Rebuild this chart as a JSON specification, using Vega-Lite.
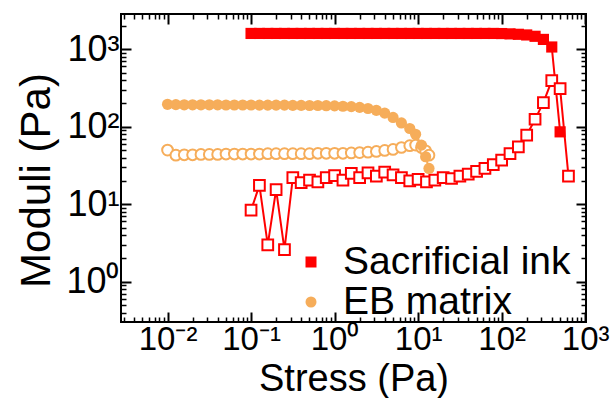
{
  "$schema": "https://vega.github.io/schema/vega-lite/v6.json",
  "width": 465,
  "height": 308,
  "autosize": {"type": "none"},
  "padding": {"left": 121, "top": 14, "right": 29, "bottom": 76},
  "background": "white",
  "config": {
    "view": {"stroke": "black", "strokeWidth": 2},
    "axis": {"labelFont": "Liberation Sans", "titleFont": "Liberation Sans", "labelColor": "black", "titleColor": "black", "tickColor": "black", "grid": false, "domain": false, "titleFontWeight": "normal", "labelOverlap": false, "labelFlush": false}
  },
  "data": {"values": [
    {"material": "Sacrificial ink", "modulus": "G'", "stress": 0.1, "value": 1600},
    {"material": "Sacrificial ink", "modulus": "G'", "stress": 0.1259, "value": 1600},
    {"material": "Sacrificial ink", "modulus": "G'", "stress": 0.1585, "value": 1600},
    {"material": "Sacrificial ink", "modulus": "G'", "stress": 0.1995, "value": 1600},
    {"material": "Sacrificial ink", "modulus": "G'", "stress": 0.2512, "value": 1600},
    {"material": "Sacrificial ink", "modulus": "G'", "stress": 0.3162, "value": 1600},
    {"material": "Sacrificial ink", "modulus": "G'", "stress": 0.3981, "value": 1600},
    {"material": "Sacrificial ink", "modulus": "G'", "stress": 0.5012, "value": 1600},
    {"material": "Sacrificial ink", "modulus": "G'", "stress": 0.631, "value": 1600},
    {"material": "Sacrificial ink", "modulus": "G'", "stress": 0.7943, "value": 1600},
    {"material": "Sacrificial ink", "modulus": "G'", "stress": 1, "value": 1600},
    {"material": "Sacrificial ink", "modulus": "G'", "stress": 1.259, "value": 1600},
    {"material": "Sacrificial ink", "modulus": "G'", "stress": 1.585, "value": 1600},
    {"material": "Sacrificial ink", "modulus": "G'", "stress": 1.995, "value": 1600},
    {"material": "Sacrificial ink", "modulus": "G'", "stress": 2.512, "value": 1600},
    {"material": "Sacrificial ink", "modulus": "G'", "stress": 3.162, "value": 1600},
    {"material": "Sacrificial ink", "modulus": "G'", "stress": 3.981, "value": 1600},
    {"material": "Sacrificial ink", "modulus": "G'", "stress": 5.012, "value": 1600},
    {"material": "Sacrificial ink", "modulus": "G'", "stress": 6.31, "value": 1600},
    {"material": "Sacrificial ink", "modulus": "G'", "stress": 7.943, "value": 1600},
    {"material": "Sacrificial ink", "modulus": "G'", "stress": 10, "value": 1600},
    {"material": "Sacrificial ink", "modulus": "G'", "stress": 12.59, "value": 1600},
    {"material": "Sacrificial ink", "modulus": "G'", "stress": 15.85, "value": 1600},
    {"material": "Sacrificial ink", "modulus": "G'", "stress": 19.95, "value": 1600},
    {"material": "Sacrificial ink", "modulus": "G'", "stress": 25.12, "value": 1600},
    {"material": "Sacrificial ink", "modulus": "G'", "stress": 31.62, "value": 1600},
    {"material": "Sacrificial ink", "modulus": "G'", "stress": 39.81, "value": 1600},
    {"material": "Sacrificial ink", "modulus": "G'", "stress": 50.12, "value": 1600},
    {"material": "Sacrificial ink", "modulus": "G'", "stress": 63.1, "value": 1600},
    {"material": "Sacrificial ink", "modulus": "G'", "stress": 79.43, "value": 1600},
    {"material": "Sacrificial ink", "modulus": "G'", "stress": 100, "value": 1595},
    {"material": "Sacrificial ink", "modulus": "G'", "stress": 125.9, "value": 1580},
    {"material": "Sacrificial ink", "modulus": "G'", "stress": 158.5, "value": 1560},
    {"material": "Sacrificial ink", "modulus": "G'", "stress": 199.5, "value": 1530},
    {"material": "Sacrificial ink", "modulus": "G'", "stress": 251.2, "value": 1470},
    {"material": "Sacrificial ink", "modulus": "G'", "stress": 316.2, "value": 1340},
    {"material": "Sacrificial ink", "modulus": "G'", "stress": 398.1, "value": 1070},
    {"material": "Sacrificial ink", "modulus": "G'", "stress": 501.2, "value": 86},
    {"material": "Sacrificial ink", "modulus": "G''", "stress": 0.1, "value": 8.4},
    {"material": "Sacrificial ink", "modulus": "G''", "stress": 0.1259, "value": 17.5},
    {"material": "Sacrificial ink", "modulus": "G''", "stress": 0.1585, "value": 3.0},
    {"material": "Sacrificial ink", "modulus": "G''", "stress": 0.1995, "value": 15.5},
    {"material": "Sacrificial ink", "modulus": "G''", "stress": 0.2512, "value": 2.6},
    {"material": "Sacrificial ink", "modulus": "G''", "stress": 0.3162, "value": 22},
    {"material": "Sacrificial ink", "modulus": "G''", "stress": 0.3981, "value": 19},
    {"material": "Sacrificial ink", "modulus": "G''", "stress": 0.5012, "value": 20.5},
    {"material": "Sacrificial ink", "modulus": "G''", "stress": 0.631, "value": 19.5},
    {"material": "Sacrificial ink", "modulus": "G''", "stress": 0.7943, "value": 22},
    {"material": "Sacrificial ink", "modulus": "G''", "stress": 1, "value": 23.5},
    {"material": "Sacrificial ink", "modulus": "G''", "stress": 1.259, "value": 20.5},
    {"material": "Sacrificial ink", "modulus": "G''", "stress": 1.585, "value": 25},
    {"material": "Sacrificial ink", "modulus": "G''", "stress": 1.995, "value": 22},
    {"material": "Sacrificial ink", "modulus": "G''", "stress": 2.512, "value": 25.5},
    {"material": "Sacrificial ink", "modulus": "G''", "stress": 3.162, "value": 23},
    {"material": "Sacrificial ink", "modulus": "G''", "stress": 3.981, "value": 26},
    {"material": "Sacrificial ink", "modulus": "G''", "stress": 5.012, "value": 24},
    {"material": "Sacrificial ink", "modulus": "G''", "stress": 6.31, "value": 22},
    {"material": "Sacrificial ink", "modulus": "G''", "stress": 7.943, "value": 20},
    {"material": "Sacrificial ink", "modulus": "G''", "stress": 10, "value": 21},
    {"material": "Sacrificial ink", "modulus": "G''", "stress": 12.59, "value": 19.5},
    {"material": "Sacrificial ink", "modulus": "G''", "stress": 15.85, "value": 20.5},
    {"material": "Sacrificial ink", "modulus": "G''", "stress": 19.95, "value": 22},
    {"material": "Sacrificial ink", "modulus": "G''", "stress": 25.12, "value": 21.5},
    {"material": "Sacrificial ink", "modulus": "G''", "stress": 31.62, "value": 23},
    {"material": "Sacrificial ink", "modulus": "G''", "stress": 39.81, "value": 24.5},
    {"material": "Sacrificial ink", "modulus": "G''", "stress": 50.12, "value": 26.5},
    {"material": "Sacrificial ink", "modulus": "G''", "stress": 63.1, "value": 29},
    {"material": "Sacrificial ink", "modulus": "G''", "stress": 79.43, "value": 32.5},
    {"material": "Sacrificial ink", "modulus": "G''", "stress": 100, "value": 37},
    {"material": "Sacrificial ink", "modulus": "G''", "stress": 125.9, "value": 45},
    {"material": "Sacrificial ink", "modulus": "G''", "stress": 158.5, "value": 55},
    {"material": "Sacrificial ink", "modulus": "G''", "stress": 199.5, "value": 78},
    {"material": "Sacrificial ink", "modulus": "G''", "stress": 251.2, "value": 125},
    {"material": "Sacrificial ink", "modulus": "G''", "stress": 316.2, "value": 205},
    {"material": "Sacrificial ink", "modulus": "G''", "stress": 398.1, "value": 395},
    {"material": "Sacrificial ink", "modulus": "G''", "stress": 501.2, "value": 310},
    {"material": "Sacrificial ink", "modulus": "G''", "stress": 631, "value": 23},
    {"material": "EB matrix", "modulus": "G'", "stress": 0.01, "value": 195},
    {"material": "EB matrix", "modulus": "G'", "stress": 0.01259, "value": 193},
    {"material": "EB matrix", "modulus": "G'", "stress": 0.01585, "value": 192},
    {"material": "EB matrix", "modulus": "G'", "stress": 0.01995, "value": 192},
    {"material": "EB matrix", "modulus": "G'", "stress": 0.02512, "value": 192},
    {"material": "EB matrix", "modulus": "G'", "stress": 0.03162, "value": 192},
    {"material": "EB matrix", "modulus": "G'", "stress": 0.03981, "value": 192},
    {"material": "EB matrix", "modulus": "G'", "stress": 0.05012, "value": 191},
    {"material": "EB matrix", "modulus": "G'", "stress": 0.0631, "value": 191},
    {"material": "EB matrix", "modulus": "G'", "stress": 0.07943, "value": 191},
    {"material": "EB matrix", "modulus": "G'", "stress": 0.1, "value": 191},
    {"material": "EB matrix", "modulus": "G'", "stress": 0.1259, "value": 190},
    {"material": "EB matrix", "modulus": "G'", "stress": 0.1585, "value": 190},
    {"material": "EB matrix", "modulus": "G'", "stress": 0.1995, "value": 190},
    {"material": "EB matrix", "modulus": "G'", "stress": 0.2512, "value": 190},
    {"material": "EB matrix", "modulus": "G'", "stress": 0.3162, "value": 189},
    {"material": "EB matrix", "modulus": "G'", "stress": 0.3981, "value": 189},
    {"material": "EB matrix", "modulus": "G'", "stress": 0.5012, "value": 188},
    {"material": "EB matrix", "modulus": "G'", "stress": 0.631, "value": 188},
    {"material": "EB matrix", "modulus": "G'", "stress": 0.7943, "value": 187},
    {"material": "EB matrix", "modulus": "G'", "stress": 1, "value": 186},
    {"material": "EB matrix", "modulus": "G'", "stress": 1.259, "value": 184},
    {"material": "EB matrix", "modulus": "G'", "stress": 1.585, "value": 182},
    {"material": "EB matrix", "modulus": "G'", "stress": 1.995, "value": 178},
    {"material": "EB matrix", "modulus": "G'", "stress": 2.512, "value": 172},
    {"material": "EB matrix", "modulus": "G'", "stress": 3.162, "value": 163},
    {"material": "EB matrix", "modulus": "G'", "stress": 3.981, "value": 150},
    {"material": "EB matrix", "modulus": "G'", "stress": 5.012, "value": 132},
    {"material": "EB matrix", "modulus": "G'", "stress": 6.31, "value": 112},
    {"material": "EB matrix", "modulus": "G'", "stress": 7.943, "value": 95},
    {"material": "EB matrix", "modulus": "G'", "stress": 9.333, "value": 80},
    {"material": "EB matrix", "modulus": "G'", "stress": 10.96, "value": 58},
    {"material": "EB matrix", "modulus": "G'", "stress": 12.3, "value": 41},
    {"material": "EB matrix", "modulus": "G'", "stress": 13.49, "value": 29},
    {"material": "EB matrix", "modulus": "G''", "stress": 0.01, "value": 50},
    {"material": "EB matrix", "modulus": "G''", "stress": 0.01259, "value": 43},
    {"material": "EB matrix", "modulus": "G''", "stress": 0.01585, "value": 43.5},
    {"material": "EB matrix", "modulus": "G''", "stress": 0.01995, "value": 43.5},
    {"material": "EB matrix", "modulus": "G''", "stress": 0.02512, "value": 44},
    {"material": "EB matrix", "modulus": "G''", "stress": 0.03162, "value": 44},
    {"material": "EB matrix", "modulus": "G''", "stress": 0.03981, "value": 44},
    {"material": "EB matrix", "modulus": "G''", "stress": 0.05012, "value": 44.5},
    {"material": "EB matrix", "modulus": "G''", "stress": 0.0631, "value": 44.5},
    {"material": "EB matrix", "modulus": "G''", "stress": 0.07943, "value": 44.5},
    {"material": "EB matrix", "modulus": "G''", "stress": 0.1, "value": 44.5},
    {"material": "EB matrix", "modulus": "G''", "stress": 0.1259, "value": 44.5},
    {"material": "EB matrix", "modulus": "G''", "stress": 0.1585, "value": 45},
    {"material": "EB matrix", "modulus": "G''", "stress": 0.1995, "value": 45},
    {"material": "EB matrix", "modulus": "G''", "stress": 0.2512, "value": 45},
    {"material": "EB matrix", "modulus": "G''", "stress": 0.3162, "value": 45},
    {"material": "EB matrix", "modulus": "G''", "stress": 0.3981, "value": 45},
    {"material": "EB matrix", "modulus": "G''", "stress": 0.5012, "value": 45},
    {"material": "EB matrix", "modulus": "G''", "stress": 0.631, "value": 45.5},
    {"material": "EB matrix", "modulus": "G''", "stress": 0.7943, "value": 45.5},
    {"material": "EB matrix", "modulus": "G''", "stress": 1, "value": 45.5},
    {"material": "EB matrix", "modulus": "G''", "stress": 1.259, "value": 45.5},
    {"material": "EB matrix", "modulus": "G''", "stress": 1.585, "value": 46},
    {"material": "EB matrix", "modulus": "G''", "stress": 1.995, "value": 46.5},
    {"material": "EB matrix", "modulus": "G''", "stress": 2.512, "value": 47},
    {"material": "EB matrix", "modulus": "G''", "stress": 3.162, "value": 48},
    {"material": "EB matrix", "modulus": "G''", "stress": 3.981, "value": 49.5},
    {"material": "EB matrix", "modulus": "G''", "stress": 5.012, "value": 51},
    {"material": "EB matrix", "modulus": "G''", "stress": 6.31, "value": 54},
    {"material": "EB matrix", "modulus": "G''", "stress": 7.943, "value": 57},
    {"material": "EB matrix", "modulus": "G''", "stress": 9.333, "value": 58},
    {"material": "EB matrix", "modulus": "G''", "stress": 10.96, "value": 54},
    {"material": "EB matrix", "modulus": "G''", "stress": 12.3, "value": 49},
    {"material": "EB matrix", "modulus": "G''", "stress": 13.49, "value": 43}
  ]},
  "layer": [
    {
      "mark": {"type": "line", "strokeWidth": 2},
      "encoding": {
        "x": {"field": "stress", "type": "quantitative", "scale": {"type": "log", "domain": [0.002773, 1023], "nice": false},
          "axis": {"orient": "bottom", "values": [0.01, 0.1, 1, 10, 100, 1000], "ticks": false, "labelFontSize": 33, "labelPadding": 1,
            "labelExpr": "datum.value == 0.01 ? '10⁻²' : datum.value == 0.1 ? '10⁻¹' : datum.value == 1 ? '10⁰' : datum.value == 10 ? '10¹' : datum.value == 100 ? '10²' : '10³'",
            "title": "Stress (Pa)", "titleFontSize": 38, "titleY": 68, "titleBaseline": "alphabetic"}},
        "y": {"field": "value", "type": "quantitative", "scale": {"type": "log", "domain": [0.3027, 2851], "nice": false},
          "axis": {"orient": "left", "values": [1, 10, 100, 1000], "ticks": false, "labelFontSize": 36, "labelPadding": 2,
            "labelExpr": "datum.value == 1 ? '10⁰' : datum.value == 10 ? '10¹' : datum.value == 100 ? '10²' : '10³'",
            "title": "Moduli (Pa)", "titleFontSize": 42, "titleX": -85, "titleY": 166, "titleAngle": 270, "titleBaseline": "middle", "titleAlign": "center"}},
        "color": {"field": "material", "type": "nominal", "scale": {"domain": ["Sacrificial ink", "EB matrix"], "range": ["#ff0000", "#f6ad5a"]}},
        "detail": {"field": "modulus"}
      }
    },
    {
      "transform": [{"filter": "datum.modulus == \"G''\""}],
      "mark": {"type": "point", "filled": false, "fill": "white", "strokeWidth": 2, "opacity": 1},
      "encoding": {
        "x": {"field": "stress", "type": "quantitative", "scale": {"type": "log", "domain": [0.002773, 1023], "nice": false},
          "axis": {"orient": "top", "labels": false, "title": null,
            "values": [0.003,0.004,0.005,0.006,0.007,0.008,0.009,0.01,0.02,0.03,0.04,0.05,0.06,0.07,0.08,0.09,0.1,0.2,0.3,0.4,0.5,0.6,0.7,0.8,0.9,1,2,3,4,5,6,7,8,9,10,20,30,40,50,60,70,80,90,100,200,300,400,500,600,700,800,900,1000],
            "tickSize": {"condition": {"test": "indexof([0.01,0.1,1,10,100,1000], datum.value) >= 0", "value": -10}, "value": -5},
            "tickWidth": {"condition": {"test": "indexof([0.01,0.1,1,10,100,1000], datum.value) >= 0", "value": 2}, "value": 1.5}}},
        "y": {"field": "value", "type": "quantitative", "scale": {"type": "log", "domain": [0.3027, 2851], "nice": false},
          "axis": {"orient": "right", "labels": false, "title": null,
            "values": [0.4,0.5,0.6,0.7,0.8,0.9,1,2,3,4,5,6,7,8,9,10,20,30,40,50,60,70,80,90,100,200,300,400,500,600,700,800,900,1000,2000],
            "tickSize": {"condition": {"test": "indexof([1,10,100,1000], datum.value) >= 0", "value": -10}, "value": -5},
            "tickWidth": {"condition": {"test": "indexof([1,10,100,1000], datum.value) >= 0", "value": 2}, "value": 1.5}}},
        "color": {"field": "material", "type": "nominal"},
        "shape": {"field": "material", "type": "nominal", "scale": {"domain": ["Sacrificial ink", "EB matrix"], "range": ["square", "circle"]}, "legend": null},
        "size": {"value": 115}
      }
    },
    {
      "transform": [{"filter": "datum.modulus == \"G'\""}],
      "mark": {"type": "point", "filled": true, "opacity": 1},
      "encoding": {
        "x": {"field": "stress", "type": "quantitative", "scale": {"type": "log", "domain": [0.002773, 1023], "nice": false},
          "axis": {"orient": "bottom", "labels": false, "title": null,
            "values": [0.003,0.004,0.005,0.006,0.007,0.008,0.009,0.01,0.02,0.03,0.04,0.05,0.06,0.07,0.08,0.09,0.1,0.2,0.3,0.4,0.5,0.6,0.7,0.8,0.9,1,2,3,4,5,6,7,8,9,10,20,30,40,50,60,70,80,90,100,200,300,400,500,600,700,800,900,1000],
            "tickSize": {"condition": {"test": "indexof([0.01,0.1,1,10,100,1000], datum.value) >= 0", "value": -10}, "value": -5},
            "tickWidth": {"condition": {"test": "indexof([0.01,0.1,1,10,100,1000], datum.value) >= 0", "value": 2}, "value": 1.5}}},
        "y": {"field": "value", "type": "quantitative", "scale": {"type": "log", "domain": [0.3027, 2851], "nice": false},
          "axis": {"orient": "left", "labels": false, "title": null,
            "values": [0.4,0.5,0.6,0.7,0.8,0.9,1,2,3,4,5,6,7,8,9,10,20,30,40,50,60,70,80,90,100,200,300,400,500,600,700,800,900,1000,2000],
            "tickSize": {"condition": {"test": "indexof([1,10,100,1000], datum.value) >= 0", "value": -10}, "value": -5},
            "tickWidth": {"condition": {"test": "indexof([1,10,100,1000], datum.value) >= 0", "value": 2}, "value": 1.5}}},
        "color": {"field": "material", "type": "nominal",
          "legend": {"orient": "none", "legendX": 170.5, "legendY": 228.5, "title": null, "padding": 0,
            "labelFont": "Liberation Sans", "labelFontSize": 39, "labelColor": "black", "labelOffset": 12.5, "labelLimit": 500, "rowPadding": -7,
            "symbolSize": 121, "symbolStrokeWidth": 0}},
        "shape": {"field": "material", "type": "nominal", "legend": null},
        "size": {"value": 125}
      }
    }
  ],
  "resolve": {"axis": {"x": "independent", "y": "independent"}}
}
